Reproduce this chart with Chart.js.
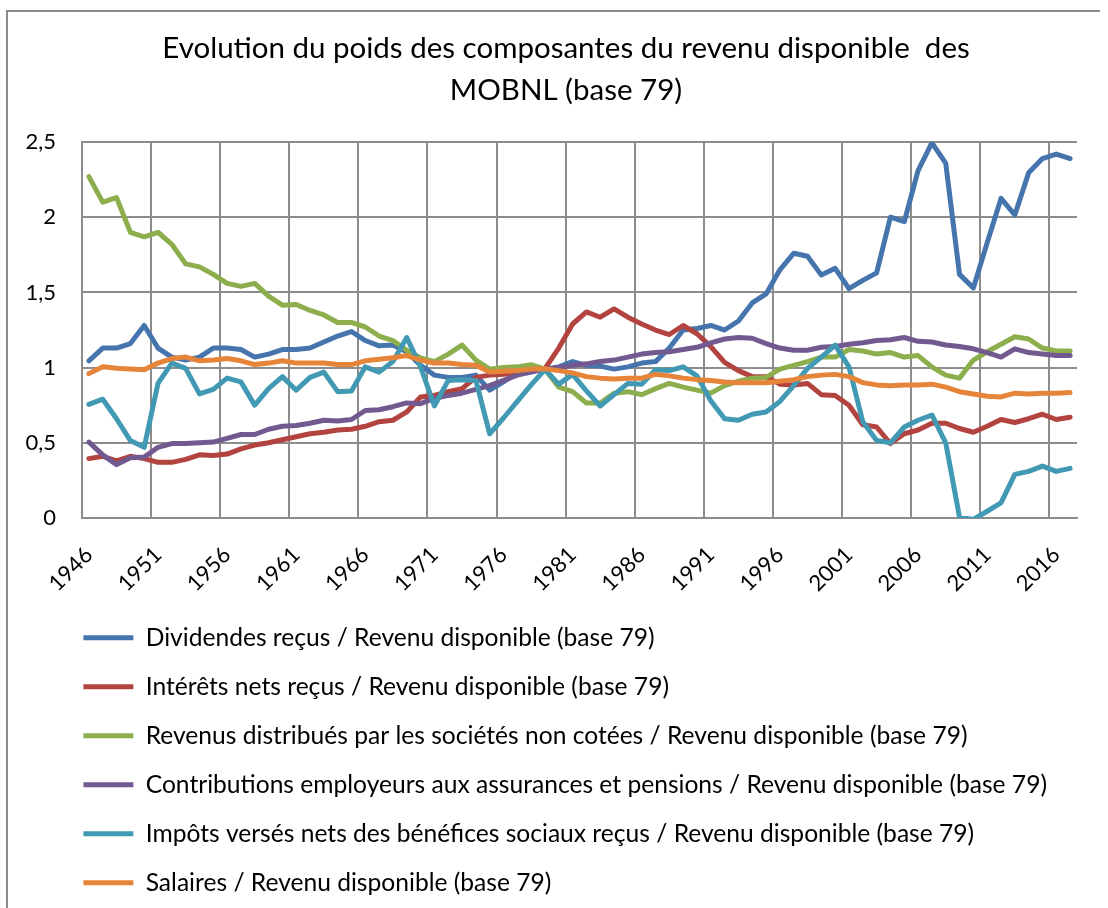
<!DOCTYPE html>
<html>
<head>
<meta charset="utf-8">
<title>Evolution du poids des composantes du revenu disponible des MOBNL</title>
<script src="https://cdn.jsdelivr.net/npm/chart.js"></script>
<style>
  html, body { margin: 0; padding: 0; background: #fff; }
  .chart-container { position: relative; width: 1108px; height: 908px; }
  .chart-frame {
    position: absolute; left: 6px; top: 10px; width: 1092px; height: 900px;
    border-left: 2px solid #8c8c8c; border-top: 2px solid #8c8c8c;
    pointer-events: none;
  }
</style>
</head>
<body>
<div class="chart-container">
  <canvas id="revenu-chart"></canvas>
  <div class="chart-frame"></div>
</div>
<script>
// categories (one per year)
const years = [
  "1946", "1947", "1948", "1949", "1950", "1951", "1952", "1953", "1954", "1955",
  "1956", "1957", "1958", "1959", "1960", "1961", "1962", "1963", "1964", "1965",
  "1966", "1967", "1968", "1969", "1970", "1971", "1972", "1973", "1974", "1975",
  "1976", "1977", "1978", "1979", "1980", "1981", "1982", "1983", "1984", "1985",
  "1986", "1987", "1988", "1989", "1990", "1991", "1992", "1993", "1994", "1995",
  "1996", "1997", "1998", "1999", "2000", "2001", "2002", "2003", "2004", "2005",
  "2006", "2007", "2008", "2009", "2010", "2011", "2012", "2013", "2014", "2015",
  "2016", "2017"
];

// series (base 79 = 1)
const dividendes = [
  1.045, 1.13, 1.13, 1.16, 1.28, 1.13, 1.07, 1.05, 1.07, 1.13,
  1.13, 1.12, 1.07, 1.09, 1.12, 1.12, 1.13, 1.17, 1.21, 1.24,
  1.18, 1.145, 1.15, 1.105, 1.015, 0.95, 0.935, 0.935, 0.95, 0.85,
  0.905, 0.965, 0.985, 0.99, 1.005, 1.04, 1.015, 1.01, 0.99, 1.005,
  1.03, 1.04, 1.13, 1.25, 1.26, 1.28, 1.25, 1.31, 1.43, 1.49,
  1.65, 1.76, 1.74, 1.615, 1.66, 1.525, 1.58, 1.63, 2.0, 1.97,
  2.31, 2.495, 2.36, 1.62, 1.53, 1.83, 2.125, 2.015, 2.295, 2.39,
  2.42, 2.39
];
const interets = [
  0.395, 0.41, 0.38, 0.41, 0.395, 0.37, 0.37, 0.39, 0.42, 0.415,
  0.425, 0.46, 0.485, 0.5, 0.52, 0.54, 0.56, 0.57, 0.585, 0.59,
  0.61, 0.64, 0.65, 0.705, 0.805, 0.815, 0.84, 0.86, 0.935, 0.95,
  0.955, 0.97, 0.98, 0.993, 1.13, 1.29, 1.37, 1.335, 1.39, 1.335,
  1.29, 1.25, 1.22, 1.28, 1.225, 1.14, 1.035, 0.98, 0.94, 0.94,
  0.89, 0.885, 0.895, 0.82, 0.815, 0.75, 0.62, 0.605, 0.495, 0.56,
  0.585, 0.63, 0.63, 0.595, 0.57, 0.61, 0.655, 0.635, 0.66, 0.69,
  0.655, 0.67
];
const revenusDistribues = [
  2.27, 2.1, 2.13, 1.9, 1.87, 1.9, 1.82, 1.69, 1.67, 1.62,
  1.56, 1.54, 1.56, 1.475, 1.415, 1.42, 1.38, 1.35, 1.3, 1.3,
  1.27, 1.21, 1.18, 1.115, 1.065, 1.04, 1.09, 1.15, 1.05, 0.99,
  1.0, 1.005, 1.02, 0.99, 0.87, 0.84, 0.765, 0.765, 0.83, 0.84,
  0.82, 0.86, 0.895, 0.87, 0.85, 0.83, 0.88, 0.91, 0.93, 0.935,
  0.99, 1.015, 1.04, 1.07, 1.07, 1.12, 1.11, 1.09, 1.1, 1.07,
  1.08, 1.005, 0.95, 0.93, 1.05, 1.105, 1.155, 1.205, 1.19, 1.13,
  1.11, 1.11
];
const contributions = [
  0.505, 0.42, 0.355, 0.4, 0.405, 0.47, 0.495, 0.495, 0.5, 0.505,
  0.53, 0.555, 0.555, 0.59, 0.61, 0.615, 0.63, 0.65, 0.645, 0.655,
  0.715, 0.72, 0.74, 0.765, 0.76, 0.795, 0.815, 0.83, 0.855, 0.88,
  0.915, 0.95, 0.97, 0.99, 1.0, 1.015, 1.025, 1.04, 1.05, 1.07,
  1.09, 1.1, 1.105, 1.12, 1.135, 1.165, 1.19, 1.2, 1.195, 1.16,
  1.13, 1.115, 1.115, 1.135, 1.14, 1.155, 1.165, 1.18, 1.185, 1.2,
  1.175, 1.17, 1.15, 1.14, 1.125, 1.1, 1.07, 1.125, 1.1, 1.09,
  1.08, 1.08
];
const impots = [
  0.755, 0.79, 0.66, 0.515, 0.47, 0.895, 1.03, 0.995, 0.825, 0.855,
  0.93, 0.905, 0.75, 0.86, 0.94, 0.85, 0.935, 0.97, 0.84, 0.845,
  1.005, 0.97, 1.04, 1.2, 1.005, 0.745, 0.915, 0.92, 0.915, 0.56,
  0.665, 0.775, 0.885, 0.987, 0.89, 0.955, 0.845, 0.745, 0.82, 0.895,
  0.89, 0.985, 0.98, 1.005, 0.945, 0.78, 0.66, 0.65, 0.69, 0.705,
  0.775, 0.88, 0.995, 1.07, 1.15, 1.005, 0.64, 0.515, 0.5, 0.605,
  0.65, 0.685, 0.5, 0.005, -0.01, 0.045, 0.1, 0.29, 0.31, 0.345,
  0.31, 0.33
];
const salaires = [
  0.96, 1.005, 0.995, 0.99, 0.985, 1.03, 1.06, 1.07, 1.045, 1.05,
  1.06, 1.045, 1.02, 1.03, 1.045, 1.03, 1.03, 1.03, 1.02, 1.02,
  1.045, 1.055, 1.065, 1.08, 1.05, 1.03, 1.03, 1.02, 1.015, 0.97,
  0.975, 0.98, 0.99, 0.993, 0.98, 0.965, 0.94, 0.93, 0.925, 0.93,
  0.93, 0.955, 0.945, 0.93, 0.92, 0.915, 0.905, 0.9, 0.9, 0.9,
  0.91, 0.92, 0.94, 0.95, 0.955, 0.94, 0.9, 0.885, 0.88, 0.885,
  0.885, 0.89, 0.87, 0.84, 0.825, 0.81, 0.805, 0.83, 0.825, 0.83,
  0.83, 0.835
];

const seriesNames = [
  "Dividendes reçus / Revenu disponible (base 79)",
  "Intérêts nets reçus / Revenu disponible (base 79)",
  "Revenus distribués par les sociétés non cotées / Revenu disponible (base 79)",
  "Contributions employeurs aux assurances et pensions / Revenu disponible (base 79)",
  "Impôts versés nets des bénéfices sociaux reçus / Revenu disponible (base 79)",
  "Salaires / Revenu disponible (base 79)"
];
const seriesValues = [dividendes, interets, revenusDistribues, contributions, impots, salaires];
const seriesColors = ["#4674ad", "#b2433f", "#8cae4c", "#725990", "#4299b3", "#e6843a"];

const gridColor = "#8c8c8c";

Chart.defaults.font.family = "Lato, 'Open Sans', sans-serif";
Chart.defaults.color = "#000";

// excel indents the title and legend past the value axis, chart.js starts them at the edge
const indentBlocks = {
  id: "indentBlocks",
  afterLayout(chart) {
    chart.legend.left += 44;
    chart.titleBlock.left += 40;
  },
};

let ctx = document.getElementById("revenu-chart").getContext("2d");

let datasets = seriesNames.map((name, i) => ({
  label: name,
  data: seriesValues[i],
  borderColor: seriesColors[i],
  backgroundColor: seriesColors[i],
  borderWidth: 5,
  borderJoinStyle: "round",
  borderCapStyle: "round",
  pointRadius: 0,
  pointHoverRadius: 0,
  tension: 0,
  // excel draws the last series on top
  order: seriesNames.length - 1 - i,
}));

let options = {
  responsive: true,
  maintainAspectRatio: false,
  animation: false,
  devicePixelRatio: 1,
  layout: {
    padding: { top: 10, left: 15, right: 31, bottom: 3 },
  },
  plugins: {
    title: {
      display: true,
      text: [
        "Evolution du poids des composantes du revenu disponible  des",
        "MOBNL (base 79)",
      ],
      color: "#000",
      font: { size: 29.5, weight: "normal", lineHeight: 1.424 },
      padding: { top: 17, bottom: 31 },
    },
    legend: {
      position: "bottom",
      align: "start",
      labels: {
        usePointStyle: true,
        pointStyle: "line",
        pointStyleWidth: 50,
        padding: 24.4,
        color: "#000",
        font: { size: 24.6 },
        sort: (a, b) => a.datasetIndex - b.datasetIndex,
      },
    },
    tooltip: { enabled: false },
  },
  scales: {
    x: {
      type: "category",
      offset: true,
      grid: {
        offset: true,
        drawTicks: false,
        lineWidth: 2,
        // only every fifth category boundary is drawn
        color: (c) => (c.index !== undefined && c.index % 5 === 0 ? gridColor : "rgba(0,0,0,0)"),
      },
      border: { display: true, color: gridColor, width: 2 },
      ticks: {
        autoSkip: false,
        minRotation: 45,
        maxRotation: 45,
        padding: 24,
        color: "#000",
        font: { size: 22 },
        callback: function (value, index) {
          return index % 5 === 0 ? this.getLabelForValue(value) : "";
        },
      },
      afterFit: (scale) => {
        scale.height = 83;
        scale.paddingLeft = 0;
        scale.paddingRight = 0;
      },
    },
    y: {
      min: 0,
      max: 2.5,
      grid: { drawTicks: false, lineWidth: 2, color: gridColor },
      border: { display: true, color: gridColor, width: 2 },
      ticks: {
        stepSize: 0.5,
        padding: 26,
        color: "#000",
        font: { size: 22 },
        callback: (value) => value.toString().replace(".", ","),
      },
      afterFit: (scale) => {
        scale.width = 67;
      },
    },
  },
};

let revenuChart = new Chart(ctx, {
  type: "line",
  data: { labels: years, datasets: datasets },
  options: options,
  plugins: [indentBlocks],
});
</script>
</body>
</html>
